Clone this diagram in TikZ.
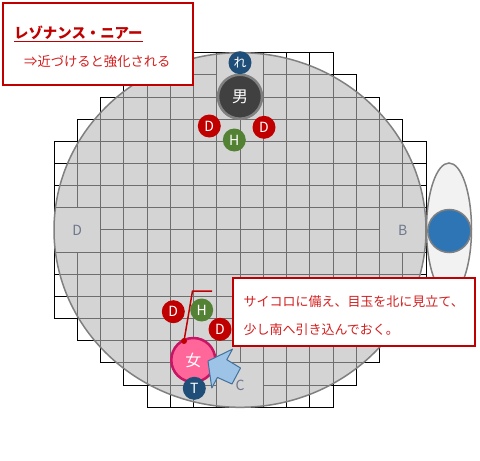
\documentclass[tikz,border=0pt]{standalone}
\usepackage{fontspec}
\setmainfont{Noto Sans CJK JP}
\definecolor{boxred}{RGB}{192,0,0}
\definecolor{txtred}{RGB}{212,30,30}
\definecolor{navy}{RGB}{31,78,121}
\definecolor{tokgreen}{RGB}{84,130,53}
\definecolor{charcoal}{RGB}{64,64,64}
\definecolor{pinkfill}{RGB}{255,102,153}
\definecolor{pinkline}{RGB}{200,20,100}
\definecolor{skyfill}{RGB}{157,195,230}
\definecolor{skyline}{RGB}{65,113,156}
\definecolor{markblue}{RGB}{46,117,182}
\definecolor{lblgray}{RGB}{110,120,140}

\begin{document}
\begin{tikzpicture}[x=1pt,y=-1pt,
    tok/.style={circle,inner sep=0pt,minimum size=23pt,text=white,font=\fontsize{14}{14}\selectfont},
    piece/.style={circle,inner sep=0pt,minimum size=44pt,text=white,line width=2pt,font=\fontsize{16}{16}\selectfont},
    lbl/.style={text=lblgray,font=\fontsize{14}{14}\selectfont},
    note/.style={draw=boxred,line width=2pt,fill=white}]
  \useasboundingbox (0,0) rectangle (480,461);
  % board
  \begin{scope}[shift={(54,52.7)},x=23.25pt,y=-22.16pt,line width=1pt]
    \foreach \r/\a/\b in {0/4/11,1/3/12,2/2/13,3/1/14,4/0/15,5/0/15,6/0/15,7/0/15,
        8/0/15,9/0/15,10/0/15,11/0/15,12/1/14,13/2/13,14/3/12,15/4/11}
      \foreach \c in {\a,...,\b}
        \draw (\c,\r) rectangle ++(1,1);
    \foreach \c/\r in {0/7,14/7,7/0,7/14}
      \draw[fill=white] (\c,\r) rectangle ++(2,2);
  \end{scope}
  \draw[draw=black!50,line width=1.5pt,fill=black!28,fill opacity=0.6]
    (240,230) ellipse [x radius=186,y radius=177.3];
  \node[lbl] (west) at (77.3,230) {D};
  \node[lbl] (east) at (402.7,230) {B};
  \node[lbl] (south) at (240,385) {C};
  % east marker
  \draw[draw=black!50,line width=1.5pt,fill=black!5] (449,229) ellipse [x radius=22.5,y radius=66];
  \node[circle,draw=black!50,line width=1.5pt,fill=markblue,minimum size=43pt,inner sep=0pt] (ball) at (449.3,231) {};
  % north pieces
  \node[piece,fill=charcoal,draw=black!50,line width=2.5pt] (otoko) at (240,96.7) {男};
  \node[tok,fill=navy,font=\fontsize{13}{13}\selectfont] (re) at (240,62.7) {れ};
  \node[tok,fill=boxred] (dnw) at (209.3,126) {D};
  \node[tok,fill=boxred] (dne) at (264,127.3) {D};
  \node[tok,fill=tokgreen] (hn) at (234.3,140) {H};
  % south pieces
  \node[tok,fill=boxred] (dsw) at (173.3,311.7) {D};
  \node[tok,fill=tokgreen] (hs) at (201.7,310) {H};
  \node[tok,fill=boxred] (dse) at (220,329.3) {D};
  \node[piece,fill=pinkfill,draw=pinkline,line width=2.5pt] (onna) at (193.3,360) {女};
  \node[tok,fill=navy] (ts) at (194.3,388.3) {T};
  \draw[fill=skyfill,draw=skyline,line width=1pt,line join=round]
    (208,361) -- (232.5,349.1) -- (226.8,359.7) -- (240.5,368) -- (232,384)
    -- (217.4,377.4) -- (211.8,388) -- cycle;
  % callout
  \node[circle,fill=boxred,inner sep=0pt,minimum size=6pt] (pin) at (184,341) {};
  \coordinate (bend) at (192.5,291);
  \coordinate (lead) at (212,291);
  \draw[boxred,line width=1.5pt] (pin.center) -- (bend) -- (lead);
  % notes
  \draw[note] (3.3,3.3) rectangle (192.7,85);
  \node[anchor=base west,inner sep=0pt,text=boxred,font=\fontsize{14.4}{14.4}\selectfont\bfseries]
    (title) at (14,38.2) {レゾナンス・ニアー};
  \draw[boxred,line width=1pt] ([yshift=-3.5pt]title.base west) -- ([yshift=-3.5pt]title.base east);
  \node[anchor=base west,inner sep=0pt,text=txtred,font=\fontsize{13.3}{13.3}\selectfont]
    (hint) at (24,66.8) {⇒近づけると強化される};
  \draw[note] (232.7,278.3) rectangle (475,346);
  \node[anchor=base west,inner sep=0pt,text=txtred,font=\fontsize{13}{13}\selectfont]
    (plan1) at (243.3,306.6) {サイコロに備え、目玉を北に見立て、};
  \node[anchor=base west,inner sep=0pt,text=txtred,font=\fontsize{13}{13}\selectfont]
    (plan2) at (243.3,334.2) {少し南へ引き込んでおく。};
\end{tikzpicture}
\end{document}
